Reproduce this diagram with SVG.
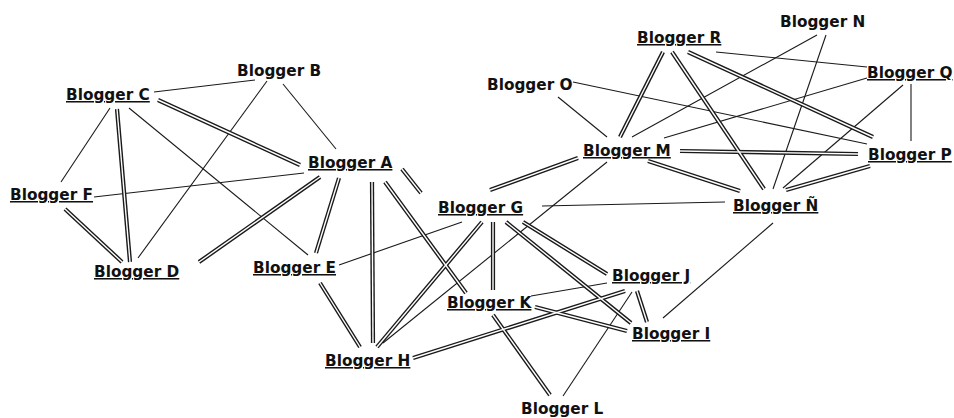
<svg xmlns="http://www.w3.org/2000/svg" xmlns:xlink="http://www.w3.org/1999/xlink" width="954" height="418" viewBox="0 0 954 418">
<style>
.lbl{font-family:"DejaVu Sans","Verdana",sans-serif;font-weight:bold;font-size:15.3px;fill:#111}
.u{text-decoration:underline}
.single line{stroke:#1a1a1a;stroke-width:1.1;fill:none}
.dblOut use{stroke:#1a1a1a;stroke-width:4.2;fill:none}
.dblIn use{stroke:#fff;stroke-width:1.4;fill:none}
</style>
<defs>
<path id="d1" d="M158,100L300,165"/>
<path id="d2" d="M117,109L130,262"/>
<path id="d3" d="M65,209L122,262"/>
<path id="d4" d="M199,262L320,177"/>
<path id="d5" d="M339,178L316,253"/>
<path id="d6" d="M372,182L373,343"/>
<path id="d7" d="M385,182L466,293"/>
<path id="d8" d="M402,169L421,193"/>
<path id="d9" d="M490,190L578,158"/>
<path id="d10" d="M482,222L377,347"/>
<path id="d11" d="M493,222L493,290"/>
<path id="d12" d="M506,222L631,323"/>
<path id="d13" d="M523,222L607,274"/>
<path id="d14" d="M320,283L360,347"/>
<path id="d15" d="M413,358L625,291"/>
<path id="d16" d="M493,315L550,395"/>
<path id="d17" d="M535,307L627,331"/>
<path id="d18" d="M637,291L647,322"/>
<path id="d19" d="M663,52L620,137"/>
<path id="d20" d="M672,52L764,189"/>
<path id="d21" d="M688,52L873,137"/>
<path id="d22" d="M680,151L858,154"/>
<path id="d23" d="M648,161L740,191"/>
<path id="d24" d="M870,166L786,190"/>
</defs>
<rect width="954" height="418" fill="#fff"/>
<g id="connectors">
<g class="single">
<line x1="154" y1="92" x2="255" y2="80"/>
<line x1="110" y1="108" x2="61" y2="182"/>
<line x1="129" y1="108" x2="308" y2="255"/>
<line x1="267" y1="81" x2="138" y2="258"/>
<line x1="283" y1="84" x2="336" y2="149"/>
<line x1="94" y1="197" x2="304" y2="173"/>
<line x1="462" y1="222" x2="339" y2="265"/>
<line x1="607" y1="162" x2="383" y2="343"/>
<line x1="542" y1="206" x2="725" y2="202"/>
<line x1="531" y1="296" x2="607" y2="283"/>
<line x1="632" y1="292" x2="563" y2="396"/>
<line x1="773" y1="223" x2="663" y2="318"/>
<line x1="716" y1="52" x2="867" y2="67"/>
<line x1="817" y1="35" x2="632" y2="137"/>
<line x1="826" y1="35" x2="773" y2="189"/>
<line x1="558" y1="97" x2="607" y2="137"/>
<line x1="573" y1="82" x2="867" y2="144"/>
<line x1="867" y1="78" x2="664" y2="138"/>
<line x1="903" y1="85" x2="783" y2="188"/>
<line x1="911" y1="84" x2="911" y2="141"/>
</g>
<g class="dblOut">
<use xlink:href="#d1"/><use xlink:href="#d2"/><use xlink:href="#d3"/><use xlink:href="#d4"/>
<use xlink:href="#d5"/><use xlink:href="#d6"/><use xlink:href="#d7"/><use xlink:href="#d8"/>
<use xlink:href="#d9"/><use xlink:href="#d10"/><use xlink:href="#d11"/><use xlink:href="#d12"/>
<use xlink:href="#d13"/><use xlink:href="#d14"/><use xlink:href="#d15"/><use xlink:href="#d16"/>
<use xlink:href="#d17"/><use xlink:href="#d18"/><use xlink:href="#d19"/><use xlink:href="#d20"/>
<use xlink:href="#d21"/><use xlink:href="#d22"/><use xlink:href="#d23"/><use xlink:href="#d24"/>
</g>
<g class="dblIn">
<use xlink:href="#d1"/><use xlink:href="#d2"/><use xlink:href="#d3"/><use xlink:href="#d4"/>
<use xlink:href="#d5"/><use xlink:href="#d6"/><use xlink:href="#d7"/><use xlink:href="#d8"/>
<use xlink:href="#d9"/><use xlink:href="#d10"/><use xlink:href="#d11"/><use xlink:href="#d12"/>
<use xlink:href="#d13"/><use xlink:href="#d14"/><use xlink:href="#d15"/><use xlink:href="#d16"/>
<use xlink:href="#d17"/><use xlink:href="#d18"/><use xlink:href="#d19"/><use xlink:href="#d20"/>
<use xlink:href="#d21"/><use xlink:href="#d22"/><use xlink:href="#d23"/><use xlink:href="#d24"/>
</g>
</g>
<g id="node-A"><text class="lbl u" x="308" y="168">Blogger A</text></g>
<g id="node-B"><text class="lbl" x="237" y="76">Blogger B</text></g>
<g id="node-C"><text class="lbl u" x="66" y="100">Blogger C</text></g>
<g id="node-D"><text class="lbl u" x="94" y="277">Blogger D</text></g>
<g id="node-E"><text class="lbl u" x="253" y="273">Blogger E</text></g>
<g id="node-F"><text class="lbl u" x="10" y="200">Blogger F</text></g>
<g id="node-G"><text class="lbl u" x="438" y="213">Blogger G</text></g>
<g id="node-H"><text class="lbl u" x="325" y="366">Blogger H</text></g>
<g id="node-I"><text class="lbl u" x="632" y="339">Blogger I</text></g>
<g id="node-J"><text class="lbl u" x="612" y="281">Blogger J</text></g>
<g id="node-K"><text class="lbl u" x="447" y="308">Blogger K</text></g>
<g id="node-L"><text class="lbl" x="521" y="414">Blogger L</text></g>
<g id="node-M"><text class="lbl u" x="583" y="156">Blogger M</text></g>
<g id="node-N"><text class="lbl" x="780" y="27">Blogger N</text></g>
<g id="node-NN"><text class="lbl u" x="733" y="211">Blogger Ñ</text></g>
<g id="node-O"><text class="lbl" x="487" y="90">Blogger O</text></g>
<g id="node-P"><text class="lbl u" x="868" y="160">Blogger P</text></g>
<g id="node-Q"><text class="lbl u" x="867" y="78">Blogger Q</text></g>
<g id="node-R"><text class="lbl u" x="637" y="43">Blogger R</text></g>
</svg>
